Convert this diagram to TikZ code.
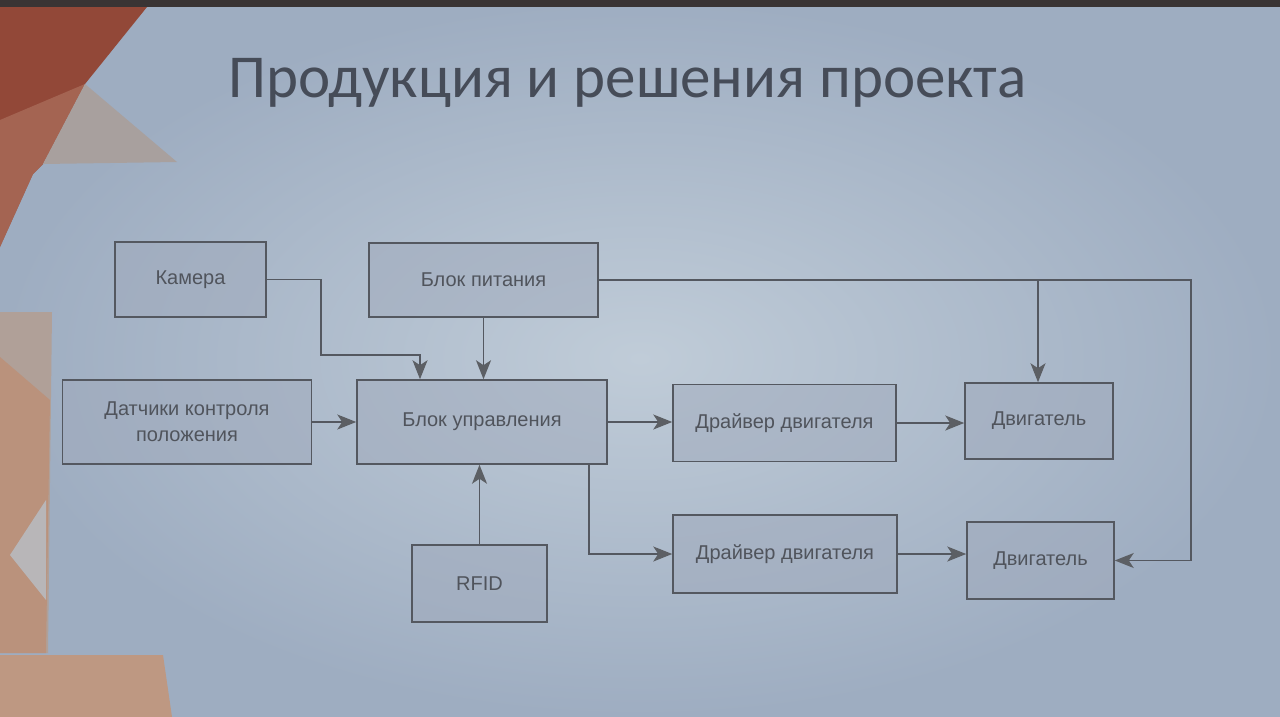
\documentclass[tikz,border=0pt]{standalone}
\usepackage{fontspec}
\setmainfont{Liberation Sans}
\newfontfamily\titlefont{Carlito}
\usetikzlibrary{arrows.meta,calc}
\definecolor{slidein}{RGB}{192,204,216}
\definecolor{slideout}{RGB}{158,173,193}
\definecolor{boxfill}{RGB}{160,170,188}
\definecolor{boxline}{RGB}{84,88,96}
\definecolor{arrline}{RGB}{92,95,100}
\definecolor{boxtext}{RGB}{80,84,92}
\definecolor{titletext}{RGB}{70,76,88}
\definecolor{redA}{RGB}{146,72,56}
\definecolor{redB}{RGB}{172,112,94}
\definecolor{grayA}{RGB}{168,160,158}
\definecolor{beigeA}{RGB}{176,160,152}
\definecolor{orangeA}{RGB}{186,146,124}
\definecolor{orangeB}{RGB}{190,152,130}
\definecolor{topband}{RGB}{58,52,52}
\tikzset{
  blk/.style={draw=boxline, line width=1.5pt, fill=boxfill, fill opacity=0.5, text opacity=1,
    text=boxtext, inner sep=0pt, align=center, font=\fontsize{20}{26}\selectfont},
  arr/.style={draw=boxline, line width=1.5pt,
    -{Stealth[length=19pt,width=15pt,inset=5pt,color=arrline]}},
}
\begin{document}
\begin{tikzpicture}[x=1pt,y=-1pt]
\useasboundingbox (0,0) rectangle (1280,717);
% background slide
\shade[inner color=slidein, outer color=slideout] (0,0) rectangle (1280,717);
% decorations left
\fill[redA] (0,0) -- (147,7) -- (85,84) -- (43,164) -- (33,174) -- (0,247) -- cycle;
\fill[redB, opacity=0.7] (85,84) -- (43,164) -- (33,174) -- (0,247) -- (0,120) -- cycle;
\fill[grayA] (85,84) -- (177,162) -- (43,164) -- cycle;
\fill[beigeA] (0,312) -- (52,312) -- (48,653) -- (0,653) -- cycle;
\fill[orangeA] (0,357) -- (50,400) -- (46,653) -- (0,653) -- cycle;
\fill[beigeA!50!slidein] (46,500) -- (10,555) -- (46,600) -- cycle;
\fill[orangeB] (0,655) -- (163,655) -- (172,717) -- (0,717) -- cycle;
\fill[topband] (0,0) rectangle (1280,7);
% title
\node[anchor=base west, inner sep=0pt, text=titletext, font=\titlefont\fontsize{61}{70}\selectfont]
  (title) at (228,97) {Продукция и решения проекта};
% boxes
\node[blk, minimum width=151pt, minimum height=75pt] (cam) at (190.5,279.5) {Камера};
\node[blk, minimum width=229pt, minimum height=74pt] (pwr) at (483.5,280) {Блок питания};
\node[blk, minimum width=249pt, minimum height=84pt] (sens) at (187,422) {Датчики контроля\\положения};
\node[blk, minimum width=250pt, minimum height=84pt] (ctrl) at (482,422) {Блок управления};
\node[blk, minimum width=223pt, minimum height=77pt] (drv1) at (784.5,423) {Драйвер двигателя};
\node[blk, minimum width=148pt, minimum height=76pt] (mot1) at (1039,421) {Двигатель};
\node[blk, minimum width=224pt, minimum height=78pt] (drv2) at (785,554) {Драйвер двигателя};
\node[blk, minimum width=147pt, minimum height=77pt] (mot2) at (1040.5,560.5) {Двигатель};
\node[blk, minimum width=135pt, minimum height=77pt] (rfid) at (479.5,583.5) {RFID};
% helper coordinates
\coordinate (k1) at (321,355);
\coordinate (k2) at (420,355);
\coordinate (r1) at (1191,280);
\coordinate (b1) at (1038,280);
\coordinate (d1) at (589,464);
% connectors
\draw[arr] (cam.east) -| (k1) -- (k2) -- (k2 |- ctrl.north);
\draw[arr] (pwr.south) -- (pwr.south |- ctrl.north);
\draw[arr] (pwr.east) -- (r1) |- (mot2.east);
\draw[arr] (b1) -- (b1 |- mot1.north);
\draw[arr] (sens.east) -- (ctrl.west);
\draw[arr] (ctrl.east) -- (ctrl.east -| drv1.west);
\draw[arr] (d1) |- (drv2.west);
\draw[arr] (drv1.east) -- (drv1.east -| mot1.west);
\draw[arr] (drv2.east) -- (drv2.east -| mot2.west);
\draw[arr] (rfid.north) -- (rfid.north |- ctrl.south);
\end{tikzpicture}
\end{document}
